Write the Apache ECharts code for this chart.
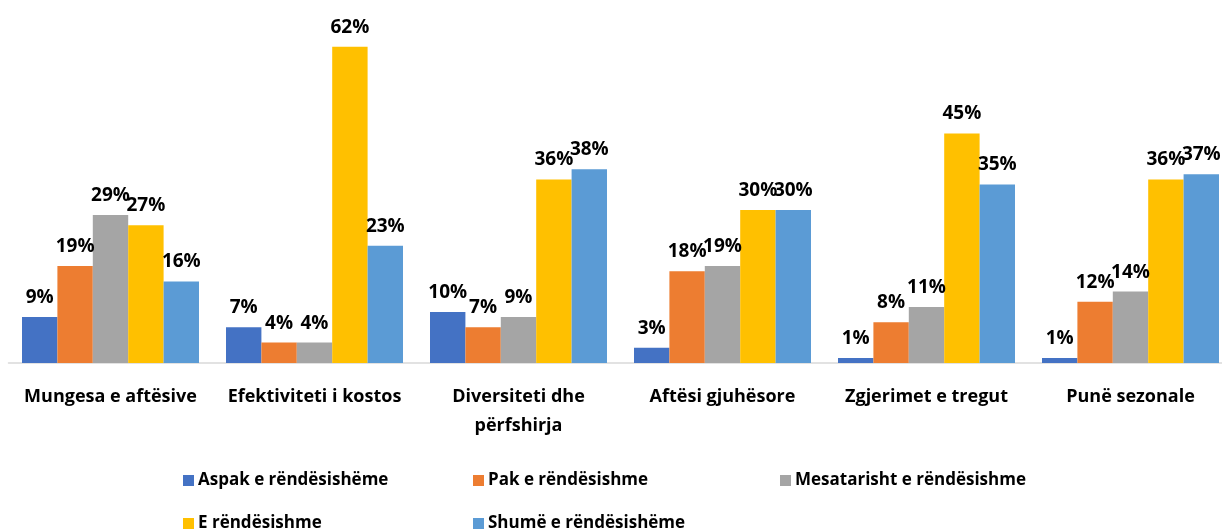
<!DOCTYPE html>
<html>
<head>
	<meta charset="utf-8">
	<title>Rëndësia</title>
	<script src="https://cdn.jsdelivr.net/npm/echarts@6/dist/echarts.min.js"></script>
	<style>
		html, body { margin: 0; padding: 0; background: #fff; overflow: hidden; }
		#chart { width: 1240px; height: 531px; }
	</style>
</head>
<body>
<div id="chart"></div>
<script>
	// te dhenat
	var categories = ['Mungesa e aftësive', 'Efektiviteti i kostos', 'Diversiteti dhe\npërfshirja', 'Aftësi gjuhësore', 'Zgjerimet e tregut', 'Punë sezonale'];
	var seriesNames = ['Aspak e rëndësishëme', 'Pak e rëndësishme', 'Mesatarisht e rëndësishme', 'E rëndësishme', 'Shumë e rëndësishëme'];
	var aspak = [9, 7, 10, 3, 1, 1];
	var pak = [19, 4, 7, 18, 8, 12];
	var mesatarisht = [29, 4, 9, 19, 11, 14];
	var rendesishme = [27, 62, 36, 30, 45, 36];
	var shume = [16, 23, 38, 30, 35, 37];
	var colors = ['#4472C4', '#ED7D31', '#A5A5A5', '#FFC000', '#5B9BD5'];

	var font = '"Open Sans", "Noto Sans", sans-serif';
	var allData = [aspak, pak, mesatarisht, rendesishme, shume];

	var series = [];
	for (var i = 0; i < allData.length; i++) {
		series.push({
			name: seriesNames[i],
			type: 'bar',
			data: allData[i],
			barWidth: 35.4,
			barGap: '0%',
			itemStyle: { color: colors[i] },
			label: {
				show: true,
				position: 'top',
				distance: 10,
				formatter: '{c}%',
				color: '#000',
				fontFamily: font,
				fontWeight: 'bold',
				fontSize: 19
			}
		});
	}

	function legendCol(left, names) {
		return {
			orient: 'vertical',
			left: left,
			top: 466,
			height: 120,
			padding: 0,
			itemGap: 20,
			itemWidth: 11,
			itemHeight: 11,
			icon: 'rect',
			selectedMode: false,
			data: names,
			textStyle: { fontFamily: font, fontWeight: 'bold', fontSize: 17, color: '#000', padding: [0, 0, 0, -1] }
		};
	}

	var myChart = echarts.init(document.getElementById('chart'));
	var option = {
		animation: false,
		color: colors,
		grid: { left: 8.5, top: 6, width: 1224, height: 357, containLabel: false },
		legend: [
			legendCol(183, [seriesNames[0], seriesNames[3]]),
			legendCol(473, [seriesNames[1], seriesNames[4]]),
			legendCol(780, [seriesNames[2]])
		],
		xAxis: {
			type: 'category',
			data: categories,
			axisTick: { show: false },
			axisLine: { lineStyle: { color: '#D9D9D9', width: 1.5 } },
			axisLabel: {
				interval: 0,
				margin: 19,
				color: '#000',
				fontFamily: font,
				fontWeight: 'bold',
				fontSize: 18,
				lineHeight: 29
			}
		},
		yAxis: {
			type: 'value',
			min: 0,
			max: 70,
			show: false,
			splitLine: { show: false }
		},
		series: series
	};
	// legenda: rreshtat si ne origjinal
	option.legend.forEach(function (lg) { lg.top = 472; lg.itemGap = 26; });
	myChart.setOption(option);
</script>
</body>
</html>
